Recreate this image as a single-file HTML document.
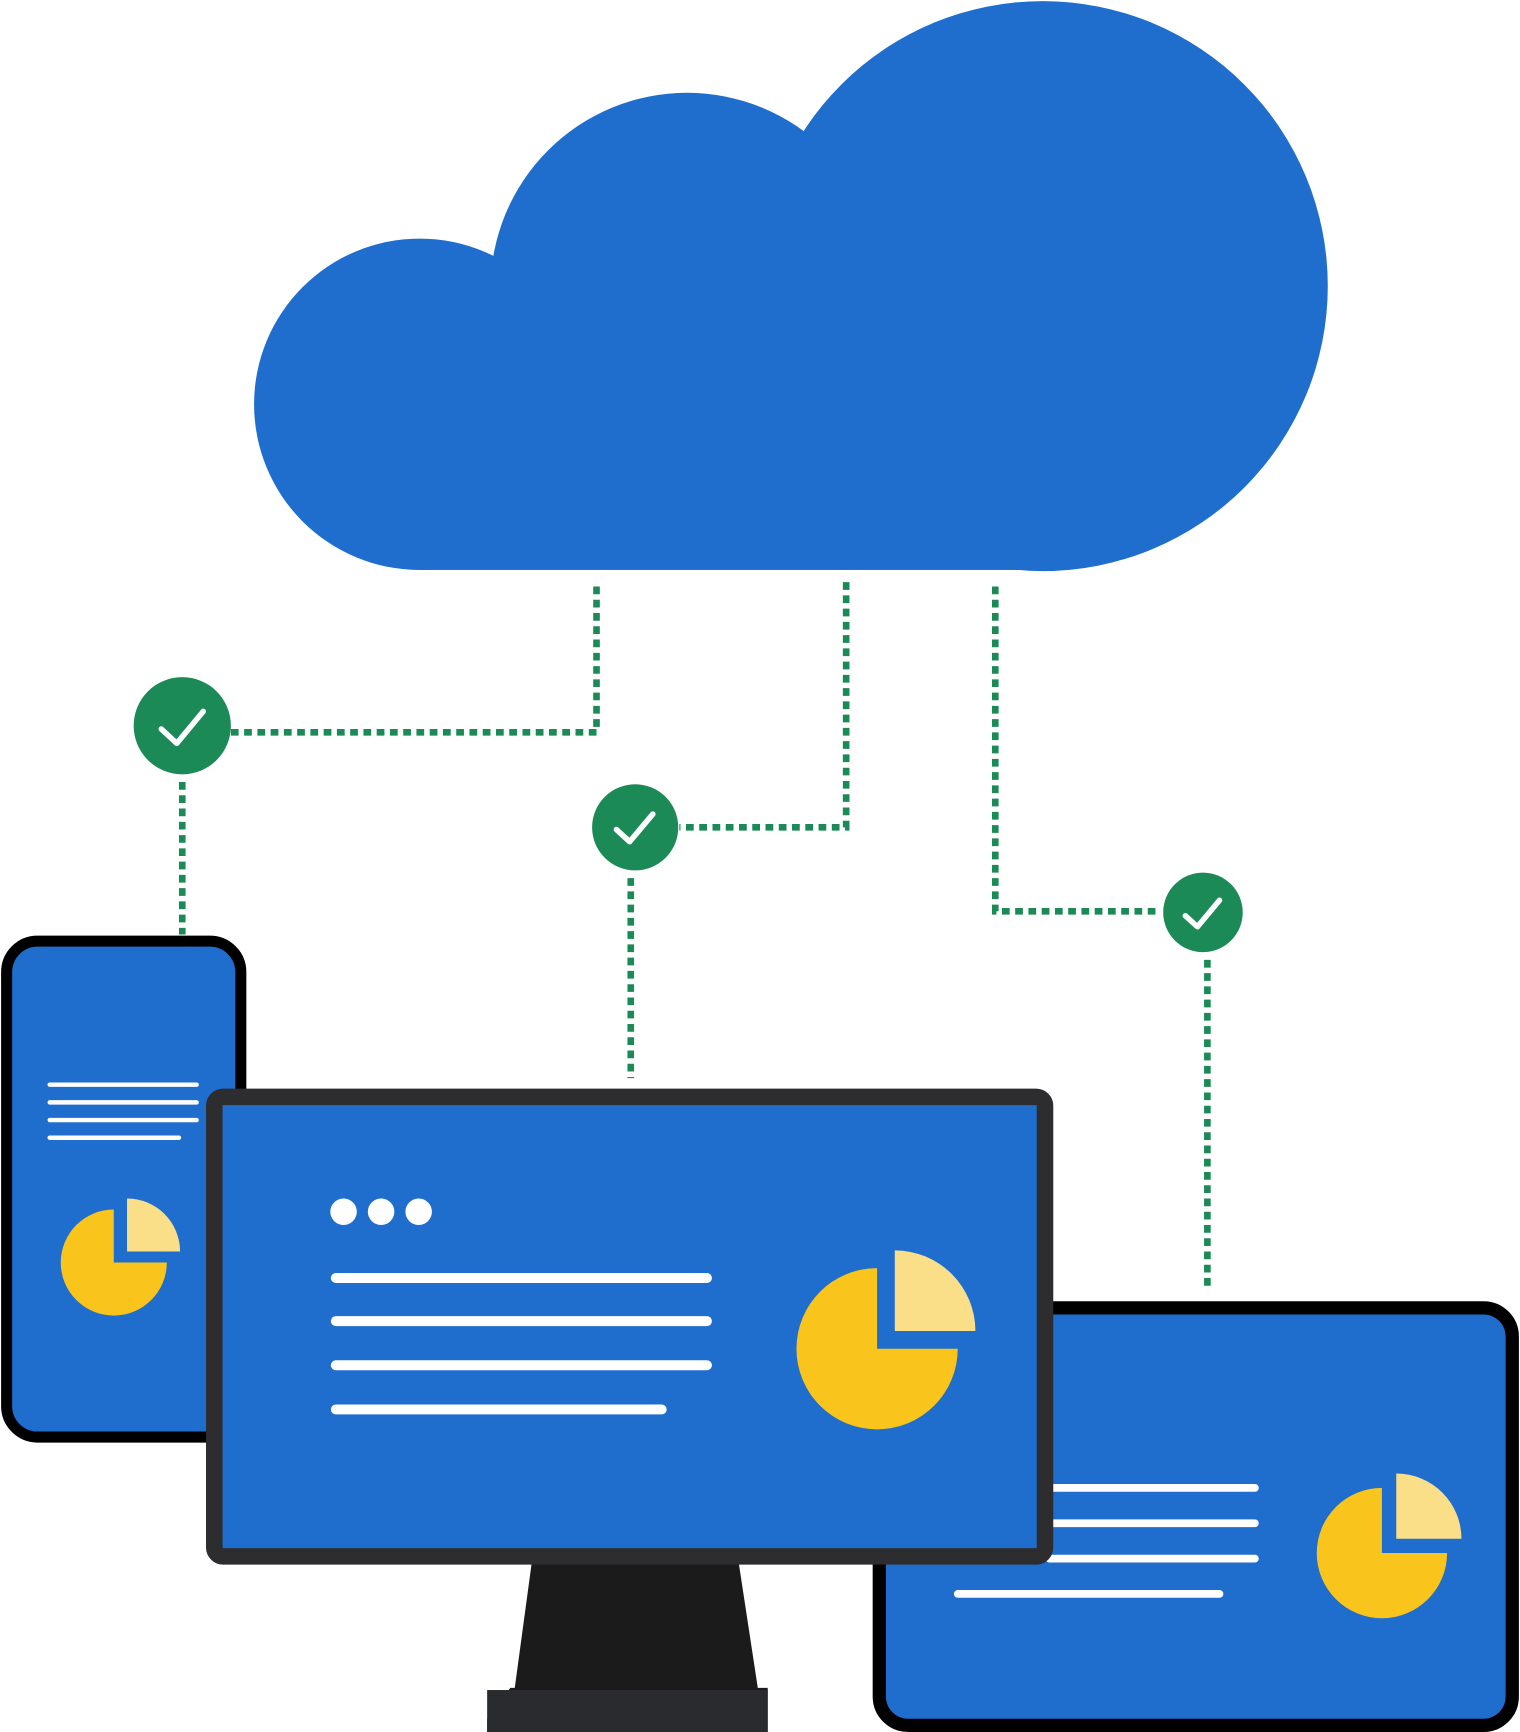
<!DOCTYPE html>
<html><head><meta charset="utf-8"><style>
html,body{margin:0;padding:0;background:#fff;}
svg{display:block;}
</style></head><body>
<svg width="1520" height="1732" viewBox="0 0 1376 1568" preserveAspectRatio="none" xmlns="http://www.w3.org/2000/svg">
<!-- cloud -->
<g fill="#1f6ecd">
<circle cx="380" cy="366" r="150"/>
<circle cx="622" cy="262" r="178"/>
<circle cx="944" cy="259" r="258"/>
<rect x="380" y="300" width="580" height="216"/>
</g>
<!-- dotted connectors -->
<g stroke="#1b8a56" stroke-width="6" fill="none" stroke-dasharray="7,5">
<polyline points="540,531 540,663 208,663"/>
<line x1="165" y1="708" x2="165" y2="846"/>
<polyline points="766,527 766,749 615,749"/>
<line x1="571" y1="795" x2="571" y2="976"/>
<polyline points="901,531 901,825 1050,825"/>
<line x1="1093" y1="869" x2="1093" y2="1168"/>
</g>
<!-- checks -->
<g fill="#1b8a56">
<circle cx="165" cy="657" r="44"/>
<circle cx="575" cy="749" r="39"/>
<circle cx="1089" cy="826" r="36"/>
</g>
<g stroke="#fff" stroke-width="5" fill="none" stroke-linecap="round" stroke-linejoin="round">
<polyline points="146,660 160,673 184,644"/>
<polyline points="558,751 570,762 591,737"/>
<polyline points="1073,829 1084,839 1104,815"/>
</g>
<!-- phone -->
<rect x="6" y="852" width="212" height="449" rx="28" fill="#1f6ecd" stroke="#000" stroke-width="10"/>
<g stroke="#fff" stroke-width="4" stroke-linecap="round">
<line x1="45" y1="982" x2="178" y2="982"/>
<line x1="45" y1="998" x2="178" y2="998"/>
<line x1="45" y1="1014" x2="178" y2="1014"/>
<line x1="45" y1="1030" x2="162" y2="1030"/>
</g>
<path d="M103,1095 A48,48 0 1 0 151,1143 L103,1143 Z" fill="#f9c41c"/>
<path d="M115,1085 A48,48 0 0 1 163,1133 L115,1133 Z" fill="#fadf88"/>
<!-- tablet -->
<rect x="796" y="1184" width="573" height="378" rx="26" fill="#1f6ecd" stroke="#000" stroke-width="12"/>
<g stroke="#fff" stroke-width="7" stroke-linecap="round">
<line x1="950" y1="1347" x2="1136" y2="1347"/>
<line x1="950" y1="1379" x2="1136" y2="1379"/>
<line x1="950" y1="1411" x2="1136" y2="1411"/>
<line x1="867" y1="1443" x2="1104" y2="1443"/>
</g>
<path d="M1251,1347 A59,59 0 1 0 1310,1406 L1251,1406 Z" fill="#f9c41c"/>
<path d="M1264,1334 A59,59 0 0 1 1323,1393 L1264,1393 Z" fill="#fadf88"/>
<!-- stand -->
<path d="M482,1410 L668,1410 L686,1528 L695,1528 L695,1568 L441,1568 L441,1556 L462,1528 L466,1528 Z" fill="#1b1b1b"/>
<rect x="441" y="1530" width="254" height="38" fill="#2a2b2e"/>
<!-- monitor -->
<rect x="194" y="993" width="752" height="416" rx="8" fill="#1f6ecd" stroke="#2d2d2f" stroke-width="15"/>
<g fill="#fff">
<circle cx="311" cy="1097" r="12"/>
<circle cx="345" cy="1097" r="12"/>
<circle cx="379" cy="1097" r="12"/>
</g>
<g stroke="#fff" stroke-width="9" stroke-linecap="round">
<line x1="304" y1="1157" x2="640" y2="1157"/>
<line x1="304" y1="1196" x2="640" y2="1196"/>
<line x1="304" y1="1236" x2="640" y2="1236"/>
<line x1="304" y1="1276" x2="599" y2="1276"/>
</g>
<path d="M794,1148 A73,73 0 1 0 867,1221 L794,1221 Z" fill="#f9c41c"/>
<path d="M810,1132 A73,73 0 0 1 883,1205 L810,1205 Z" fill="#fadf88"/>
</svg>
</body></html>
